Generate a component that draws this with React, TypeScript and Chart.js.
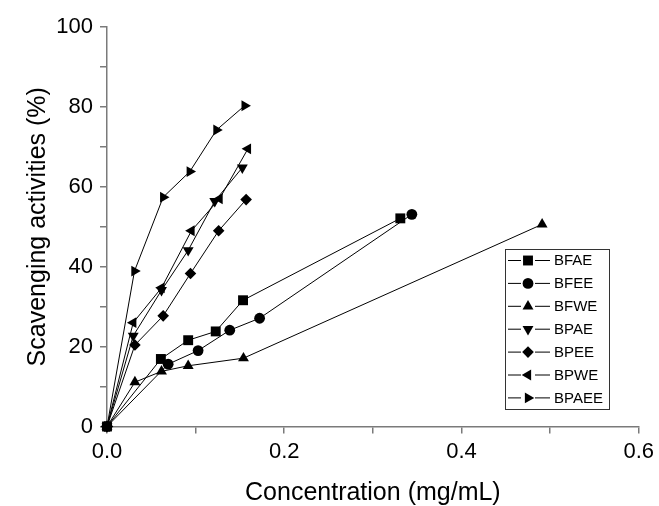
import React, { useEffect, useRef } from 'react';
import { Chart, registerables } from 'chart.js';

Chart.register(...registerables);

const seriesNames = ['BFAE', 'BFEE', 'BFWE', 'BPAE', 'BPEE', 'BPWE', 'BPAEE'];

const bfaeX = [0, 0.0608, 0.0916, 0.1227, 0.1535, 0.331];
const bfaeY = [0, 16.9, 21.6, 23.8, 31.6, 52.1];
const bfeeX = [0, 0.069, 0.1028, 0.1385, 0.1722, 0.344];
const bfeeY = [0, 15.6, 19.0, 24.1, 27.1, 53.1];
const bfweX = [0, 0.0315, 0.0615, 0.0916, 0.154, 0.491];
const bfweY = [0, 11.1, 13.8, 15.2, 17.1, 50.6];
const bpaeX = [0, 0.0296, 0.0615, 0.0916, 0.1216, 0.1527];
const bpaeY = [0, 22.7, 34.1, 44.1, 56.4, 64.8];
const bpeeX = [0, 0.0315, 0.0634, 0.0942, 0.126, 0.157];
const bpeeY = [0, 20.4, 27.7, 38.3, 49.0, 56.8];
const bpweX = [0, 0.0296, 0.0615, 0.0953, 0.127, 0.159];
const bpweY = [0, 26.0, 34.7, 49.0, 57.0, 69.5];
const bpaeeX = [0, 0.031, 0.0634, 0.0934, 0.1235, 0.1553];
const bpaeeY = [0, 38.9, 57.4, 63.8, 74.2, 80.3];

const xValues = [bfaeX, bfeeX, bfweX, bpaeX, bpeeX, bpweX, bpaeeX];
const yValues = [bfaeY, bfeeY, bfweY, bpaeY, bpeeY, bpweY, bpaeeY];

const markerStyles = ['rect', 'circle', 'triangle', 'triangle', 'rectRot', 'triangle', 'triangle'];
const markerRotations = [0, 0, 0, 180, 0, -90, 90];
const markerRadii = [7, 5.4, 6.3, 6.3, 5.8, 6.3, 6.3];

const xTitle = 'Concentration (mg/mL)';
const yTitle = 'Scavenging activities (%)';

const FONT = "'Liberation Sans', Arial, Helvetica, sans-serif";
const AXIS_COLOR = '#7a7a7a';

function drawMarker(ctx: CanvasRenderingContext2D, style: string, rotation: number, x: number, y: number, r: number) {
  let rad = (rotation * Math.PI) / 180;
  ctx.beginPath();
  if (style === 'rect') {
    const s = Math.SQRT1_2 * r;
    ctx.rect(x - s, y - s, 2 * s, 2 * s);
  } else if (style === 'circle') {
    ctx.arc(x, y, r, 0, Math.PI * 2);
  } else if (style === 'triangle') {
    for (let i = 0; i < 3; i++) {
      const px = x + Math.sin(rad) * r;
      const py = y - Math.cos(rad) * r;
      if (i === 0) ctx.moveTo(px, py);
      else ctx.lineTo(px, py);
      rad += (2 * Math.PI) / 3;
    }
    ctx.closePath();
  } else if (style === 'rectRot') {
    ctx.moveTo(x - r, y);
    ctx.lineTo(x, y - r);
    ctx.lineTo(x + r, y);
    ctx.lineTo(x, y + r);
    ctx.closePath();
  }
  ctx.fill();
}

const legendPlugin = {
  id: 'boxLegend',
  afterDraw(chart: any) {
    const ctx: CanvasRenderingContext2D = chart.ctx;
    const left = 505;
    const top = 249;
    const right = 609;
    const bottom = 409;
    const rowStart = 260.5;
    const rowGap = 22.9;
    ctx.save();
    ctx.fillStyle = '#ffffff';
    ctx.fillRect(left, top, right - left, bottom - top);
    ctx.strokeStyle = '#333333';
    ctx.lineWidth = 1;
    ctx.strokeRect(left + 0.5, top + 0.5, right - left, bottom - top);
    chart.data.datasets.forEach((ds: any, i: number) => {
      const y = rowStart + i * rowGap;
      ctx.strokeStyle = '#000000';
      ctx.lineWidth = 1;
      ctx.beginPath();
      ctx.moveTo(508, y);
      ctx.lineTo(521, y);
      ctx.moveTo(535, y);
      ctx.lineTo(550, y);
      ctx.stroke();
      ctx.fillStyle = '#000000';
      drawMarker(ctx, markerStyles[i], markerRotations[i], 528, y, markerRadii[i]);
      ctx.font = `15px ${FONT}`;
      ctx.textBaseline = 'middle';
      ctx.textAlign = 'left';
      ctx.fillText(ds.label, 554, y + 0.5);
    });
    ctx.restore();
  },
};

export default function App() {
  const canvasRef = useRef<HTMLCanvasElement | null>(null);

  useEffect(() => {
    document.body.style.margin = '0';
    const canvas = canvasRef.current;
    if (!canvas) return;
    const datasets = seriesNames.map((name, i) => ({
      label: name,
      data: xValues[i].map((x, j) => ({ x, y: yValues[i][j] })),
      borderColor: '#000000',
      backgroundColor: '#000000',
      borderWidth: 1,
      pointStyle: markerStyles[i],
      rotation: markerRotations[i],
      pointRotation: markerRotations[i],
      pointRadius: markerRadii[i],
      pointBorderWidth: 0,
      pointBackgroundColor: '#000000',
      pointHoverRadius: markerRadii[i],
      showLine: true,
      fill: false,
      tension: 0,
      clip: false as any,
    }));

    const chart = new Chart(canvas, {
      type: 'line',
      data: { datasets },
      plugins: [legendPlugin],
      options: {
        responsive: false,
        animation: false,
        devicePixelRatio: 1,
        layout: { padding: { top: 27, right: 18.5, left: 0, bottom: 0 } },
        plugins: {
          legend: { display: false },
          tooltip: { enabled: false },
        },
        scales: {
          x: {
            type: 'linear',
            min: 0,
            max: 0.6,
            afterFit: (scale: any) => {
              scale.height = 79.5;
            },
            ticks: {
              stepSize: 0.1,
              autoSkip: false,
              maxRotation: 0,
              padding: 5,
              color: '#000000',
              font: { family: FONT, size: 22 },
              callback: (v: any) => (Math.round(Number(v) * 10) % 2 === 0 ? Number(v).toFixed(1) : ''),
            },
            grid: {
              display: true,
              drawOnChartArea: false,
              drawTicks: true,
              tickLength: 7,
              color: AXIS_COLOR,
              lineWidth: 1.5,
            },
            border: { display: true, color: AXIS_COLOR, width: 1.5 },
            title: {
              display: true,
              text: xTitle,
              color: '#000000',
              font: { family: FONT, size: 25, lineHeight: 1 },
              padding: { top: 0, bottom: 0 },
            },
          },
          y: {
            type: 'linear',
            min: 0,
            max: 100,
            afterFit: (scale: any) => {
              scale.width = 107;
            },
            ticks: {
              stepSize: 10,
              autoSkip: false,
              padding: 7,
              color: '#000000',
              font: { family: FONT, size: 22 },
              callback: (v: any) => (Math.round(Number(v)) % 20 === 0 ? String(Math.round(Number(v))) : ''),
            },
            grid: {
              display: true,
              drawOnChartArea: false,
              drawTicks: true,
              tickLength: 7,
              color: AXIS_COLOR,
              lineWidth: 1.5,
            },
            border: { display: true, color: AXIS_COLOR, width: 1.5 },
            title: {
              display: true,
              text: yTitle,
              color: '#000000',
              font: { family: FONT, size: 25, lineHeight: 1.2 },
              padding: { top: 23, bottom: 0 },
            },
          },
        },
      } as any,
    });
    return () => chart.destroy();
  }, []);

  return (
    <div style={{ width: 659, height: 506 }}>
      <canvas ref={canvasRef} width={659} height={506} style={{ display: 'block' }} />
    </div>
  );
}
